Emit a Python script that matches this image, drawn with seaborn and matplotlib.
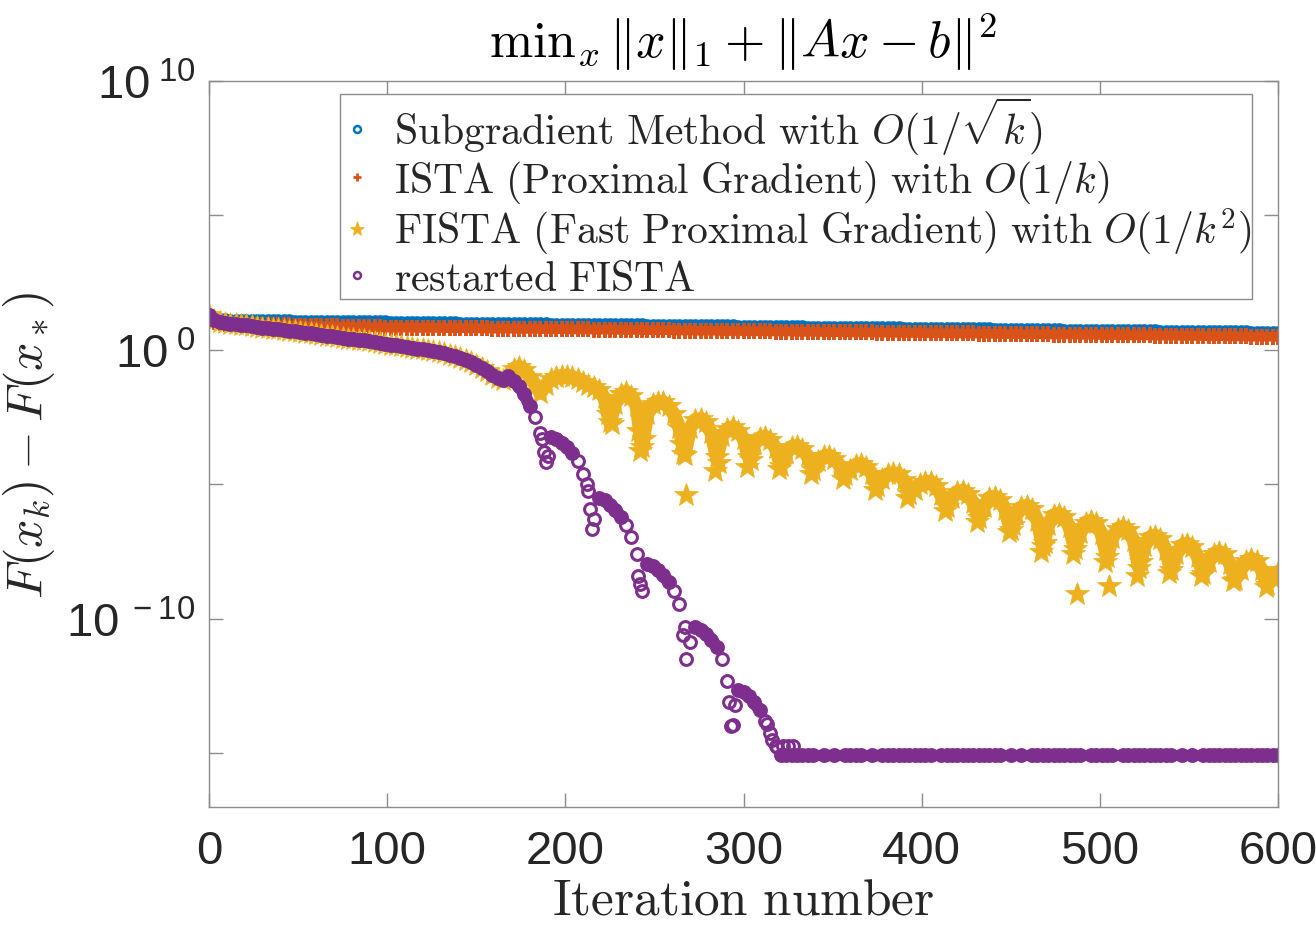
"""
Convergence of subgradient / ISTA / FISTA / restarted FISTA on a lasso problem,
redrawn from the MATLAB figure. Values are log10(F(x_k) - F(x_*)) read off the
plot every third iteration (k = 0, 3, ..., 600), plus a few stray points.
"""

import numpy as np
import matplotlib
matplotlib.use("Agg")
import matplotlib.pyplot as plt
import seaborn as sns
from matplotlib.lines import Line2D
from matplotlib.ticker import NullLocator

# ---------------------------------------------------------------
# data (log10 of the gap), k = 0, 3, 6, ..., 600
# ---------------------------------------------------------------

subgradient_log = [
    1.30, 1.14, 1.11, 1.10, 1.09, 1.09, 1.08, 1.08, 1.08, 1.07,
    1.07, 1.07, 1.06, 1.06, 1.06, 1.06, 1.05, 1.05, 1.05, 1.05,
    1.04, 1.04, 1.04, 1.04, 1.03, 1.03, 1.03, 1.03, 1.03, 1.02,
    1.02, 1.02, 1.02, 1.02,
    1.01, 1.01, 1.01, 1.01, 1.00, 1.00, 1.00, 1.00, 1.00,
    0.99, 0.99, 0.99, 0.99, 0.98, 0.98, 0.98, 0.98,
    0.97, 0.97, 0.97, 0.97, 0.97, 0.96, 0.96, 0.96, 0.96,
    0.95, 0.95, 0.95, 0.95, 0.94, 0.94, 0.94, 0.94, 0.94,
    0.93, 0.93, 0.93, 0.93, 0.92, 0.92, 0.92, 0.92, 0.92,
    0.91, 0.91, 0.91, 0.91, 0.90, 0.90, 0.90, 0.90,
    0.89, 0.89, 0.89, 0.89, 0.89, 0.88, 0.88, 0.88, 0.88,
    0.87, 0.87, 0.87, 0.87, 0.86, 0.86, 0.86, 0.86, 0.86,
    0.85, 0.85, 0.85, 0.85, 0.84, 0.84, 0.84, 0.84,
    0.83, 0.83, 0.83, 0.83, 0.83, 0.82, 0.82, 0.82, 0.82,
    0.81, 0.81, 0.81, 0.81, 0.81, 0.80, 0.80, 0.80, 0.80,
    0.79, 0.79, 0.79, 0.79, 0.78, 0.78, 0.78, 0.78, 0.78,
    0.77, 0.77, 0.77, 0.77, 0.76, 0.76, 0.76, 0.76,
    0.75, 0.75, 0.75, 0.75, 0.75, 0.74, 0.74, 0.74, 0.74,
    0.73, 0.73, 0.73, 0.73, 0.72, 0.72, 0.72, 0.72, 0.72,
    0.71, 0.71, 0.71, 0.71, 0.70, 0.70, 0.70, 0.70, 0.70,
    0.69, 0.69, 0.69, 0.69, 0.68, 0.68, 0.68, 0.68,
    0.67, 0.67, 0.67, 0.67, 0.67, 0.66, 0.66, 0.66, 0.66,
    0.65, 0.65, 0.65, 0.65, 0.64, 0.64, 0.64, 0.64, 0.64,
    0.63,
]

ista_log = [
    1.30, 1.05, 1.00, 0.98, 0.97, 0.96, 0.95, 0.95, 0.94, 0.94,
    0.93, 0.93, 0.92, 0.92, 0.91, 0.91, 0.90, 0.90, 0.89, 0.89,
    0.88, 0.88, 0.87, 0.87, 0.87, 0.86, 0.86, 0.85, 0.85, 0.85,
    0.84, 0.84, 0.84, 0.83,
    0.83, 0.83, 0.83, 0.83, 0.83, 0.82, 0.82, 0.82, 0.82, 0.82,
    0.81, 0.81, 0.81, 0.81, 0.81, 0.80, 0.80, 0.80, 0.80,
    0.79, 0.79, 0.79, 0.79, 0.79, 0.78, 0.78, 0.78, 0.78, 0.78,
    0.77, 0.77, 0.77, 0.77, 0.77, 0.76, 0.76, 0.76, 0.76,
    0.75, 0.75, 0.75, 0.75, 0.75, 0.74, 0.74, 0.74, 0.74, 0.74,
    0.73, 0.73, 0.73, 0.73, 0.73, 0.72, 0.72, 0.72, 0.72,
    0.71, 0.71, 0.71, 0.71, 0.71, 0.70, 0.70, 0.70, 0.70, 0.70,
    0.69, 0.69, 0.69, 0.69, 0.69, 0.68, 0.68, 0.68, 0.68,
    0.67, 0.67, 0.67, 0.67, 0.67, 0.66, 0.66, 0.66, 0.66, 0.66,
    0.65, 0.65, 0.65, 0.65, 0.65, 0.64, 0.64, 0.64, 0.64,
    0.63, 0.63, 0.63, 0.63, 0.63, 0.62, 0.62, 0.62, 0.62, 0.62,
    0.61, 0.61, 0.61, 0.61, 0.61, 0.60, 0.60, 0.60, 0.60,
    0.59, 0.59, 0.59, 0.59, 0.59, 0.58, 0.58, 0.58, 0.58, 0.58,
    0.57, 0.57, 0.57, 0.57, 0.57, 0.56, 0.56, 0.56, 0.56,
    0.55, 0.55, 0.55, 0.55, 0.55, 0.54, 0.54, 0.54, 0.54, 0.54,
    0.53, 0.53, 0.53, 0.53, 0.53, 0.52, 0.52, 0.52, 0.52,
    0.51, 0.51, 0.51, 0.51, 0.51, 0.50, 0.50, 0.50, 0.50,
    0.49, 0.49, 0.49, 0.49, 0.49, 0.48,
]

# FISTA and restarted FISTA coincide until the first restart (k = 0..165)
accelerated_early_log = [
    1.30, 1.10, 1.05, 1.01, 0.98, 0.95, 0.93, 0.91, 0.88, 0.86,
    0.83, 0.81, 0.79, 0.76, 0.74, 0.71, 0.69, 0.67, 0.64, 0.61,
    0.59, 0.56, 0.53, 0.51, 0.48, 0.45, 0.42, 0.40, 0.37, 0.35,
    0.32, 0.29, 0.26, 0.23, 0.20, 0.17, 0.14, 0.11, 0.08, 0.05,
    0.02, -0.01, -0.04, -0.08, -0.13, -0.18, -0.24, -0.30, -0.36, -0.45,
    -0.55, -0.66, -0.78, -0.92, -1.06, -1.12,
]

# FISTA, k = 168..600
fista_late_log = [
    -0.95, -0.70, -0.63, -0.75, -1.00, -1.30, -1.60, -1.30, -1.10, -1.00,
    -0.97, -0.97, -1.02, -1.10, -1.20, -1.30, -1.38, -1.50, -1.80, -2.70,
    -2.00, -1.65, -1.56, -1.70, -2.10, -3.60, -2.40, -2.00, -1.93, -1.95,
    -2.10, -2.40, -2.90, -3.90, -2.90, -2.60, -2.57, -2.70, -3.10, -4.00,
    -3.20, -2.95, -2.87, -3.00, -3.30, -4.00, -3.50, -3.27, -3.23, -3.35,
    -3.65, -4.30, -3.85, -3.60, -3.57, -3.68, -3.95, -4.45, -4.15, -3.96,
    -3.94, -4.05, -4.30, -4.65, -4.45, -4.27, -4.24, -4.35, -4.60, -5.05,
    -4.80, -4.62, -4.58, -4.62, -4.85, -5.35, -5.20, -5.00, -4.92, -4.91,
    -5.05, -5.40, -5.85, -5.50, -5.28, -5.24, -5.35, -5.70, -6.25, -5.85,
    -5.50, -5.46, -5.58, -5.95, -6.70, -6.15, -5.85, -5.80, -5.92, -6.35,
    -7.30, -6.50, -6.15, -6.10, -6.20, -6.60, -7.40, -6.80, -6.42, -6.36,
    -6.45, -6.85, -7.70, -7.00, -6.65, -6.58, -6.70, -7.10, -8.10, -7.30,
    -6.97, -6.91, -7.02, -7.45, -8.20, -7.60, -7.27, -7.21, -7.32, -7.70,
    -8.35, -7.90, -7.58, -7.51, -7.60, -7.95, -8.55, -8.20, -7.85, -7.77,
    -7.85, -8.20, -8.75, -8.50, -8.25,
]

# restarted FISTA, k = 168..318 (one arc per restart)
restarted_arcs_log = [
    -0.97, -1.15, -1.35, -1.65, -2.08, -2.50, -3.10, -4.16,
    -3.25, -3.30, -3.45, -3.62, -3.85, -4.15, -4.60, -5.25, -6.30,
    -5.52, -5.60, -5.75, -5.95, -6.20, -6.50, -6.95, -7.60, -8.95,
    -7.95, -8.03, -8.18, -8.38, -8.65, -8.95, -9.45, -10.30, -10.85,
    -10.30, -10.40, -10.55, -10.78, -11.05, -11.50, -12.30, -13.95,
    -12.65, -12.72, -12.88, -13.10, -13.40, -13.80, -14.25, -14.72,
]
# index in restarted_arcs_log where each arc begins
arc_starts = [0, 8, 17, 26, 35, 43]

# restarted FISTA, k = 321..600: machine-precision floor (None = exact zero)
restarted_floor_log = [
    -15.05, -15.05, -15.05, -15.05, -15.05, -15.05, -15.05, None, -15.05, None,
    -15.05, None, -15.05, -15.05, -15.05, -15.05, None, -15.05, None, -15.05,
    -15.05, -15.05, -15.05, -15.05, -15.05, -15.05, -15.05, -15.05, -15.05, None,
    -15.05, -15.05, -15.05, -15.05, -15.05, -15.05, -15.05, -15.05, -15.05, -15.05,
    -15.05, -15.05, None, -15.05, None, -15.05, None, -15.05, -15.05, -15.05,
    -15.05, -15.05, -15.05, -15.05, -15.05, -15.05, -15.05, None, -15.05, -15.05,
    -15.05, -15.05, -15.05, None, -15.05, -15.05, -15.05, -15.05, -15.05, -15.05,
    -15.05, -15.05, -15.05, -15.05, None, -15.05, None, -15.05, None, -15.05,
    -15.05, -15.05, -15.05, -15.05, -15.05, -15.05, -15.05, -15.05, -15.05, -15.05,
    -15.05, -15.05, -15.05, -15.05,
]

# stray low points at the bottom of the FISTA ripples
fista_dip_k = [224, 226, 241, 242, 244, 265, 266, 268, 284, 286, 302, 304, 320,
               338, 356, 374, 392, 413, 431, 449, 451, 467, 469, 485, 487, 503,
               505, 521, 523, 539, 557, 575, 593]
fista_dip_log = [-2.40, -2.75, -3.00, -3.75, -3.30, -3.50, -3.87, -5.40, -4.50,
                 -4.20, -4.35, -4.10, -4.42, -4.60, -4.80, -5.20, -5.50, -6.00,
                 -6.40, -6.77, -6.50, -7.51, -7.20, -7.58, -9.07, -7.88, -8.77,
                 -8.40, -7.90, -8.30, -8.40, -8.60, -8.80]

# stray points at the end of each restarted-FISTA arc
restarted_dip_k = [187, 188, 190, 212, 214, 215, 241, 242, 266, 268, 292, 293,
                   295, 313, 316, 319, 322, 325, 328]
restarted_dip_log = [-3.30, -3.80, -3.95, -5.00, -5.90, -6.65, -8.40, -8.70,
                     -10.60, -11.50, -13.10, -14.00, -13.20, -13.90, -14.50,
                     -14.75, -14.72, -14.72, -14.72]

labels = [
    r"$\mathrm{Subgradient\ Method\ with\ }O(1/\sqrt{k})$",
    r"$\mathrm{ISTA\ (Proximal\ Gradient)\ with\ }O(1/k)$",
    r"$\mathrm{FISTA\ (Fast\ Proximal\ Gradient)\ with\ }O(1/k^2)$",
    r"$\mathrm{restarted\ FISTA}$",
]

# ---------------------------------------------------------------
# figure
# ---------------------------------------------------------------

sns.set_theme(style="white")
plt.rcParams["font.family"] = ["Liberation Sans", "DejaVu Sans"]
plt.rcParams["mathtext.fontset"] = "cm"

BLUE, ORANGE, YELLOW, PURPLE = "#0072BD", "#D95319", "#EDB120", "#7E2F8E"
AX_GREY = "#8c8c8c"

k_all = np.arange(0, 601, 3)
k_early = k_all[: len(accelerated_early_log)]
k_arcs = k_all[len(accelerated_early_log): len(accelerated_early_log) + len(restarted_arcs_log)]
k_floor = k_all[-len(restarted_floor_log):]
fista_log = accelerated_early_log + fista_late_log
restarted_log = accelerated_early_log + restarted_arcs_log + restarted_floor_log


def gap(values):
    return 10.0 ** np.array(values, dtype=float)


def draw(x, logv, marker, color, ms, mew, filled=False):
    sns.lineplot(x=np.asarray(x), y=gap(logv), ax=ax, estimator=None, sort=False,
                 linestyle="none", marker=marker, markersize=ms, markeredgewidth=mew,
                 markeredgecolor=color, markerfacecolor=color if filled else "none",
                 color=color, legend=False)


def band(x, logv, color, lw):
    # the dense MATLAB markers merge into a solid stroke; mimic it underneath
    sns.lineplot(x=np.asarray(x), y=gap(logv), ax=ax, estimator=None, sort=False,
                 color=color, linewidth=lw, solid_capstyle="round", legend=False)


fig = plt.figure(figsize=(13.16, 9.28), dpi=100)
ax = fig.add_axes([209 / 1316, 1 - 808 / 928, (1278 - 209) / 1316, (808 - 82) / 928])
ax.set_yscale("log")

band(k_all, subgradient_log, BLUE, 8.0)
draw(k_all, subgradient_log, "o", BLUE, 8.5, 2.0)
band(k_all, ista_log, ORANGE, 7.0)
draw(k_all, ista_log, "+", ORANGE, 11, 2.8)

band(k_all, fista_log, YELLOW, 10.0)
draw(k_all, fista_log, "*", YELLOW, 18, 0.5, filled=True)
draw(fista_dip_k, fista_dip_log, "*", YELLOW, 18, 0.5, filled=True)

band(k_early, accelerated_early_log, PURPLE, 9.5)
for s in arc_starts:
    band(k_arcs[s:s + 5], restarted_arcs_log[s:s + 5], PURPLE, 9.0)
band(k_floor, restarted_floor_log, PURPLE, 8.0)
draw(k_all, restarted_log, "o", PURPLE, 8.5, 2.2)
draw(restarted_dip_k, restarted_dip_log, "o", PURPLE, 8.5, 2.2)

ax.set_xlim(0, 600)
ax.set_ylim(1e-17, 1e10)
ax.set_xticks(range(0, 601, 100))
ax.set_yticks([1e10, 1e5, 1e0, 1e-5, 1e-10, 1e-15])
ax.set_yticklabels([r"$\mathregular{10^{\;10}}$", "", r"$\mathregular{10^{\;0}}$", "",
                    r"$\mathregular{10^{\;-10}}$", ""])
ax.yaxis.set_minor_locator(NullLocator())
ax.tick_params(direction="in", length=10, width=1, color=AX_GREY,
               bottom=True, left=True, top=True, right=True,
               labelsize=34, labelcolor="#262626", pad=10)
ax.tick_params(axis="x", pad=16)
for spine in ax.spines.values():
    spine.set_color(AX_GREY)
    spine.set_linewidth(1)

ax.set_title(r"$\mathrm{min}_x\, \Vert x\Vert_1 + \Vert Ax-b\Vert^2$", fontsize=37.5, pad=17,
             color="#000000")
ax.set_xlabel(r"$\mathrm{Iteration\ number}$", fontsize=37, labelpad=2)
ax.set_ylabel(r"$F(x_k) - F(x_*)$", fontsize=36, labelpad=6)

handles = [
    Line2D([], [], linestyle="none", marker="o", ms=5, mew=1.8, mfc="none", mec=BLUE),
    Line2D([], [], linestyle="none", marker="+", ms=6, mew=2.0, mec=ORANGE),
    Line2D([], [], linestyle="none", marker="*", ms=11, mew=0.5, mfc=YELLOW, mec=YELLOW),
    Line2D([], [], linestyle="none", marker="o", ms=5, mew=1.8, mfc="none", mec=PURPLE),
]
leg = ax.legend(handles, labels, loc="upper left", bbox_to_anchor=(0.1225, 0.982),
                fontsize=30, frameon=True, fancybox=False, edgecolor=AX_GREY, framealpha=1,
                handlelength=0.8, handletextpad=0.5, borderpad=0.0, labelspacing=0.03,
                borderaxespad=0)
leg.get_frame().set_linewidth(1)

fig.savefig("out.png", dpi=100)
plt.close(fig)
